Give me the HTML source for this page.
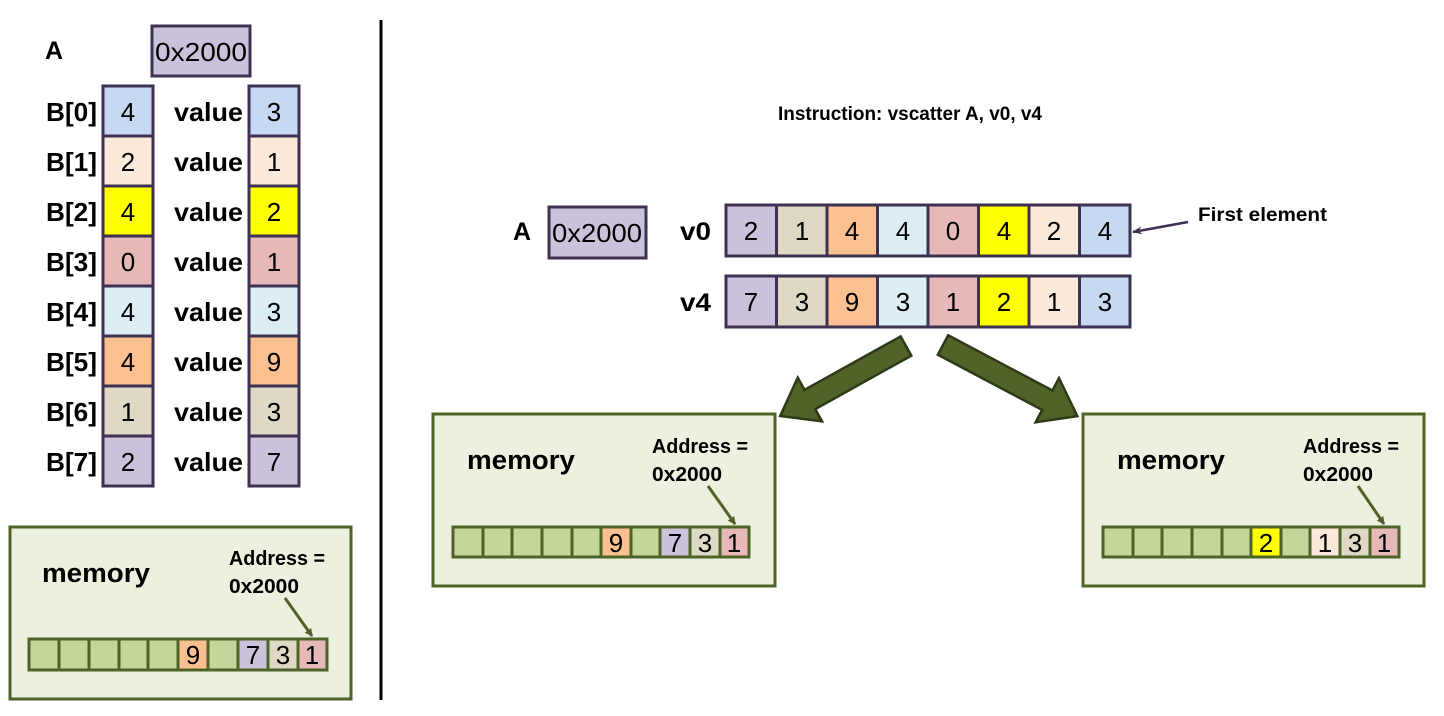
<!DOCTYPE html>
<html><head><meta charset="utf-8"><style>
html,body{margin:0;padding:0;background:#fff;}
svg{display:block;}
text{font-family:"Liberation Sans",sans-serif;}
.n{font-size:26px;text-anchor:middle;fill:#000;}
.b{font-weight:bold;fill:#000;}
.c{stroke:#3f3151;stroke-width:3;}
.m{stroke:#4f6228;stroke-width:3;}
</style></head><body>
<svg width="1444" height="716" viewBox="0 0 1444 716" xmlns="http://www.w3.org/2000/svg">
<defs>
<marker id="ga" markerWidth="8" markerHeight="8" refX="7" refY="4" orient="auto" markerUnits="userSpaceOnUse"><path d="M0,0 L8,4 L0,8 z" fill="#4f6228"/></marker>
<marker id="pa" markerWidth="10" markerHeight="10" refX="9" refY="5" orient="auto" markerUnits="userSpaceOnUse"><path d="M0,1 L10,5 L0,9 L3,5 z" fill="#3f3151"/></marker>
</defs>
<!-- LEFT PANEL -->
<text x="45" y="59" class="b" font-size="25">A</text>
<rect x="152" y="26" width="98" height="50" fill="#ccc1da" class="c"/>
<text x="201" y="61" class="n" textLength="92" lengthAdjust="spacingAndGlyphs">0x2000</text>

<g>
<rect x="103" y="86" width="50" height="50" fill="#c6d9f1" class="c"/>
<rect x="103" y="136" width="50" height="50" fill="#fde9d9" class="c"/>
<rect x="103" y="186" width="50" height="50" fill="#ffff00" class="c"/>
<rect x="103" y="236" width="50" height="50" fill="#e6b9b8" class="c"/>
<rect x="103" y="286" width="50" height="50" fill="#dbeef4" class="c"/>
<rect x="103" y="336" width="50" height="50" fill="#fac090" class="c"/>
<rect x="103" y="386" width="50" height="50" fill="#ddd9c4" class="c"/>
<rect x="103" y="436" width="50" height="50" fill="#ccc1da" class="c"/>
<text x="128" y="121" class="n">4</text><text x="128" y="171" class="n">2</text><text x="128" y="221" class="n">4</text><text x="128" y="271" class="n">0</text>
<text x="128" y="321" class="n">4</text><text x="128" y="371" class="n">4</text><text x="128" y="421" class="n">1</text><text x="128" y="471" class="n">2</text>

<rect x="249" y="86" width="50" height="50" fill="#c6d9f1" class="c"/>
<rect x="249" y="136" width="50" height="50" fill="#fde9d9" class="c"/>
<rect x="249" y="186" width="50" height="50" fill="#ffff00" class="c"/>
<rect x="249" y="236" width="50" height="50" fill="#e6b9b8" class="c"/>
<rect x="249" y="286" width="50" height="50" fill="#dbeef4" class="c"/>
<rect x="249" y="336" width="50" height="50" fill="#fac090" class="c"/>
<rect x="249" y="386" width="50" height="50" fill="#ddd9c4" class="c"/>
<rect x="249" y="436" width="50" height="50" fill="#ccc1da" class="c"/>
<text x="274" y="121" class="n">3</text><text x="274" y="171" class="n">1</text><text x="274" y="221" class="n">2</text><text x="274" y="271" class="n">1</text>
<text x="274" y="321" class="n">3</text><text x="274" y="371" class="n">9</text><text x="274" y="421" class="n">3</text><text x="274" y="471" class="n">7</text>

<g class="b" font-size="26">
<text x="46" y="121" textLength="51" lengthAdjust="spacingAndGlyphs">B[0]</text><text x="46" y="171" textLength="51" lengthAdjust="spacingAndGlyphs">B[1]</text><text x="46" y="221" textLength="51" lengthAdjust="spacingAndGlyphs">B[2]</text><text x="46" y="271" textLength="51" lengthAdjust="spacingAndGlyphs">B[3]</text>
<text x="46" y="321" textLength="51" lengthAdjust="spacingAndGlyphs">B[4]</text><text x="46" y="371" textLength="51" lengthAdjust="spacingAndGlyphs">B[5]</text><text x="46" y="421" textLength="51" lengthAdjust="spacingAndGlyphs">B[6]</text><text x="46" y="471" textLength="51" lengthAdjust="spacingAndGlyphs">B[7]</text>
<text x="174" y="121" textLength="69" lengthAdjust="spacingAndGlyphs">value</text><text x="174" y="171" textLength="69" lengthAdjust="spacingAndGlyphs">value</text><text x="174" y="221" textLength="69" lengthAdjust="spacingAndGlyphs">value</text><text x="174" y="271" textLength="69" lengthAdjust="spacingAndGlyphs">value</text>
<text x="174" y="321" textLength="69" lengthAdjust="spacingAndGlyphs">value</text><text x="174" y="371" textLength="69" lengthAdjust="spacingAndGlyphs">value</text><text x="174" y="421" textLength="69" lengthAdjust="spacingAndGlyphs">value</text><text x="174" y="471" textLength="69" lengthAdjust="spacingAndGlyphs">value</text>
</g>
</g>

<!-- left memory -->
<rect x="10" y="527" width="341" height="172" fill="#ebf1de" class="m"/>
<text x="42" y="582" class="b" font-size="27" textLength="108" lengthAdjust="spacingAndGlyphs">memory</text>
<text x="229" y="565" class="b" font-size="20" textLength="96" lengthAdjust="spacingAndGlyphs">Address =</text>
<text x="229" y="593" class="b" font-size="20" textLength="70" lengthAdjust="spacingAndGlyphs">0x2000</text>
<line x1="285" y1="598" x2="312" y2="636" stroke="#4f6228" stroke-width="3" marker-end="url(#ga)"/>
<g class="m">
<rect x="29" y="639" width="30" height="31" fill="#c3d69b"/><rect x="59" y="639" width="30" height="31" fill="#c3d69b"/><rect x="89" y="639" width="30" height="31" fill="#c3d69b"/><rect x="119" y="639" width="29" height="31" fill="#c3d69b"/><rect x="148" y="639" width="30" height="31" fill="#c3d69b"/>
<rect x="178" y="639" width="30" height="31" fill="#fac090"/><rect x="208" y="639" width="30" height="31" fill="#c3d69b"/><rect x="238" y="639" width="30" height="31" fill="#ccc1da"/><rect x="268" y="639" width="30" height="31" fill="#ddd9c4"/><rect x="298" y="639" width="29" height="31" fill="#e6b9b8"/>
</g>
<text x="193" y="664" class="n">9</text><text x="253" y="664" class="n">7</text><text x="283" y="664" class="n">3</text><text x="312" y="664" class="n">1</text>

<line x1="381" y1="20" x2="381" y2="700" stroke="#000" stroke-width="3"/>

<!-- RIGHT -->
<text x="778" y="120" class="b" font-size="19" textLength="264" lengthAdjust="spacingAndGlyphs">Instruction: vscatter A, v0, v4</text>
<text x="513" y="240" class="b" font-size="25">A</text>
<rect x="549" y="207" width="97" height="51" fill="#ccc1da" class="c"/>
<text x="597" y="242" class="n" textLength="90" lengthAdjust="spacingAndGlyphs">0x2000</text>
<text x="680" y="240" class="b" font-size="25" textLength="31" lengthAdjust="spacingAndGlyphs">v0</text>
<text x="680" y="311" class="b" font-size="25" textLength="31" lengthAdjust="spacingAndGlyphs">v4</text>

<g class="c">
<rect x="726" y="205" width="50.5" height="51" fill="#ccc1da"/><rect x="776.5" y="205" width="50.5" height="51" fill="#ddd9c4"/><rect x="827" y="205" width="50.5" height="51" fill="#fac090"/><rect x="877.5" y="205" width="50.5" height="51" fill="#dbeef4"/>
<rect x="928" y="205" width="50.5" height="51" fill="#e6b9b8"/><rect x="978.5" y="205" width="50.5" height="51" fill="#ffff00"/><rect x="1029" y="205" width="50.5" height="51" fill="#fde9d9"/><rect x="1079.5" y="205" width="50.5" height="51" fill="#c6d9f1"/>
<rect x="726" y="276" width="50.5" height="51" fill="#ccc1da"/><rect x="776.5" y="276" width="50.5" height="51" fill="#ddd9c4"/><rect x="827" y="276" width="50.5" height="51" fill="#fac090"/><rect x="877.5" y="276" width="50.5" height="51" fill="#dbeef4"/>
<rect x="928" y="276" width="50.5" height="51" fill="#e6b9b8"/><rect x="978.5" y="276" width="50.5" height="51" fill="#ffff00"/><rect x="1029" y="276" width="50.5" height="51" fill="#fde9d9"/><rect x="1079.5" y="276" width="50.5" height="51" fill="#c6d9f1"/>
</g>
<g>
<text x="751" y="240" class="n">2</text><text x="802" y="240" class="n">1</text><text x="852" y="240" class="n">4</text><text x="903" y="240" class="n">4</text><text x="953" y="240" class="n">0</text><text x="1004" y="240" class="n">4</text><text x="1054" y="240" class="n">2</text><text x="1105" y="240" class="n">4</text>
<text x="751" y="311" class="n">7</text><text x="802" y="311" class="n">3</text><text x="852" y="311" class="n">9</text><text x="903" y="311" class="n">3</text><text x="953" y="311" class="n">1</text><text x="1004" y="311" class="n">2</text><text x="1054" y="311" class="n">1</text><text x="1105" y="311" class="n">3</text>
</g>
<text x="1198" y="221" class="b" font-size="19" textLength="129" lengthAdjust="spacingAndGlyphs">First element</text>
<line x1="1188" y1="222" x2="1133" y2="232" stroke="#3f3151" stroke-width="2.5" marker-end="url(#pa)"/>

<!-- big arrows -->
<polygon points="0,-11 110,-11 110,-25 144,0 110,25 110,11 0,11" fill="#4f6228" stroke="#2e3a17" stroke-width="2.5" transform="translate(906,346) rotate(150.9)"/>
<polygon points="0,-11 118,-11 118,-25 152,0 118,25 118,11 0,11" fill="#4f6228" stroke="#2e3a17" stroke-width="2.5" transform="translate(943,345) rotate(27.9)"/>

<!-- middle memory -->
<rect x="433" y="414" width="342" height="172" fill="#ebf1de" class="m"/>
<text x="467" y="469" class="b" font-size="27" textLength="108" lengthAdjust="spacingAndGlyphs">memory</text>
<text x="652" y="453" class="b" font-size="20" textLength="96" lengthAdjust="spacingAndGlyphs">Address =</text>
<text x="652" y="481" class="b" font-size="20" textLength="70" lengthAdjust="spacingAndGlyphs">0x2000</text>
<line x1="708" y1="486" x2="735" y2="524" stroke="#4f6228" stroke-width="3" marker-end="url(#ga)"/>
<g class="m">
<rect x="453" y="527" width="30" height="30" fill="#c3d69b"/><rect x="483" y="527" width="29" height="30" fill="#c3d69b"/><rect x="512" y="527" width="30" height="30" fill="#c3d69b"/><rect x="542" y="527" width="30" height="30" fill="#c3d69b"/><rect x="572" y="527" width="29" height="30" fill="#c3d69b"/>
<rect x="601" y="527" width="30" height="30" fill="#fac090"/><rect x="631" y="527" width="29" height="30" fill="#c3d69b"/><rect x="660" y="527" width="30" height="30" fill="#ccc1da"/><rect x="690" y="527" width="30" height="30" fill="#ddd9c4"/><rect x="720" y="527" width="29" height="30" fill="#e6b9b8"/>
</g>
<text x="616" y="552" class="n">9</text><text x="675" y="552" class="n">7</text><text x="705" y="552" class="n">3</text><text x="734" y="552" class="n">1</text>

<!-- right memory -->
<rect x="1083" y="414" width="341" height="172" fill="#ebf1de" class="m"/>
<text x="1117" y="469" class="b" font-size="27" textLength="108" lengthAdjust="spacingAndGlyphs">memory</text>
<text x="1303" y="453" class="b" font-size="20" textLength="96" lengthAdjust="spacingAndGlyphs">Address =</text>
<text x="1303" y="481" class="b" font-size="20" textLength="70" lengthAdjust="spacingAndGlyphs">0x2000</text>
<line x1="1358" y1="486" x2="1384" y2="524" stroke="#4f6228" stroke-width="3" marker-end="url(#ga)"/>
<g class="m">
<rect x="1103" y="527" width="30" height="30" fill="#c3d69b"/><rect x="1133" y="527" width="29" height="30" fill="#c3d69b"/><rect x="1162" y="527" width="30" height="30" fill="#c3d69b"/><rect x="1192" y="527" width="30" height="30" fill="#c3d69b"/><rect x="1222" y="527" width="29" height="30" fill="#c3d69b"/>
<rect x="1251" y="527" width="30" height="30" fill="#ffff00"/><rect x="1281" y="527" width="29" height="30" fill="#c3d69b"/><rect x="1310" y="527" width="30" height="30" fill="#fde9d9"/><rect x="1340" y="527" width="30" height="30" fill="#ddd9c4"/><rect x="1370" y="527" width="29" height="30" fill="#e6b9b8"/>
</g>
<text x="1266" y="552" class="n">2</text><text x="1325" y="552" class="n">1</text><text x="1355" y="552" class="n">3</text><text x="1384" y="552" class="n">1</text>
</svg>
</body></html>
